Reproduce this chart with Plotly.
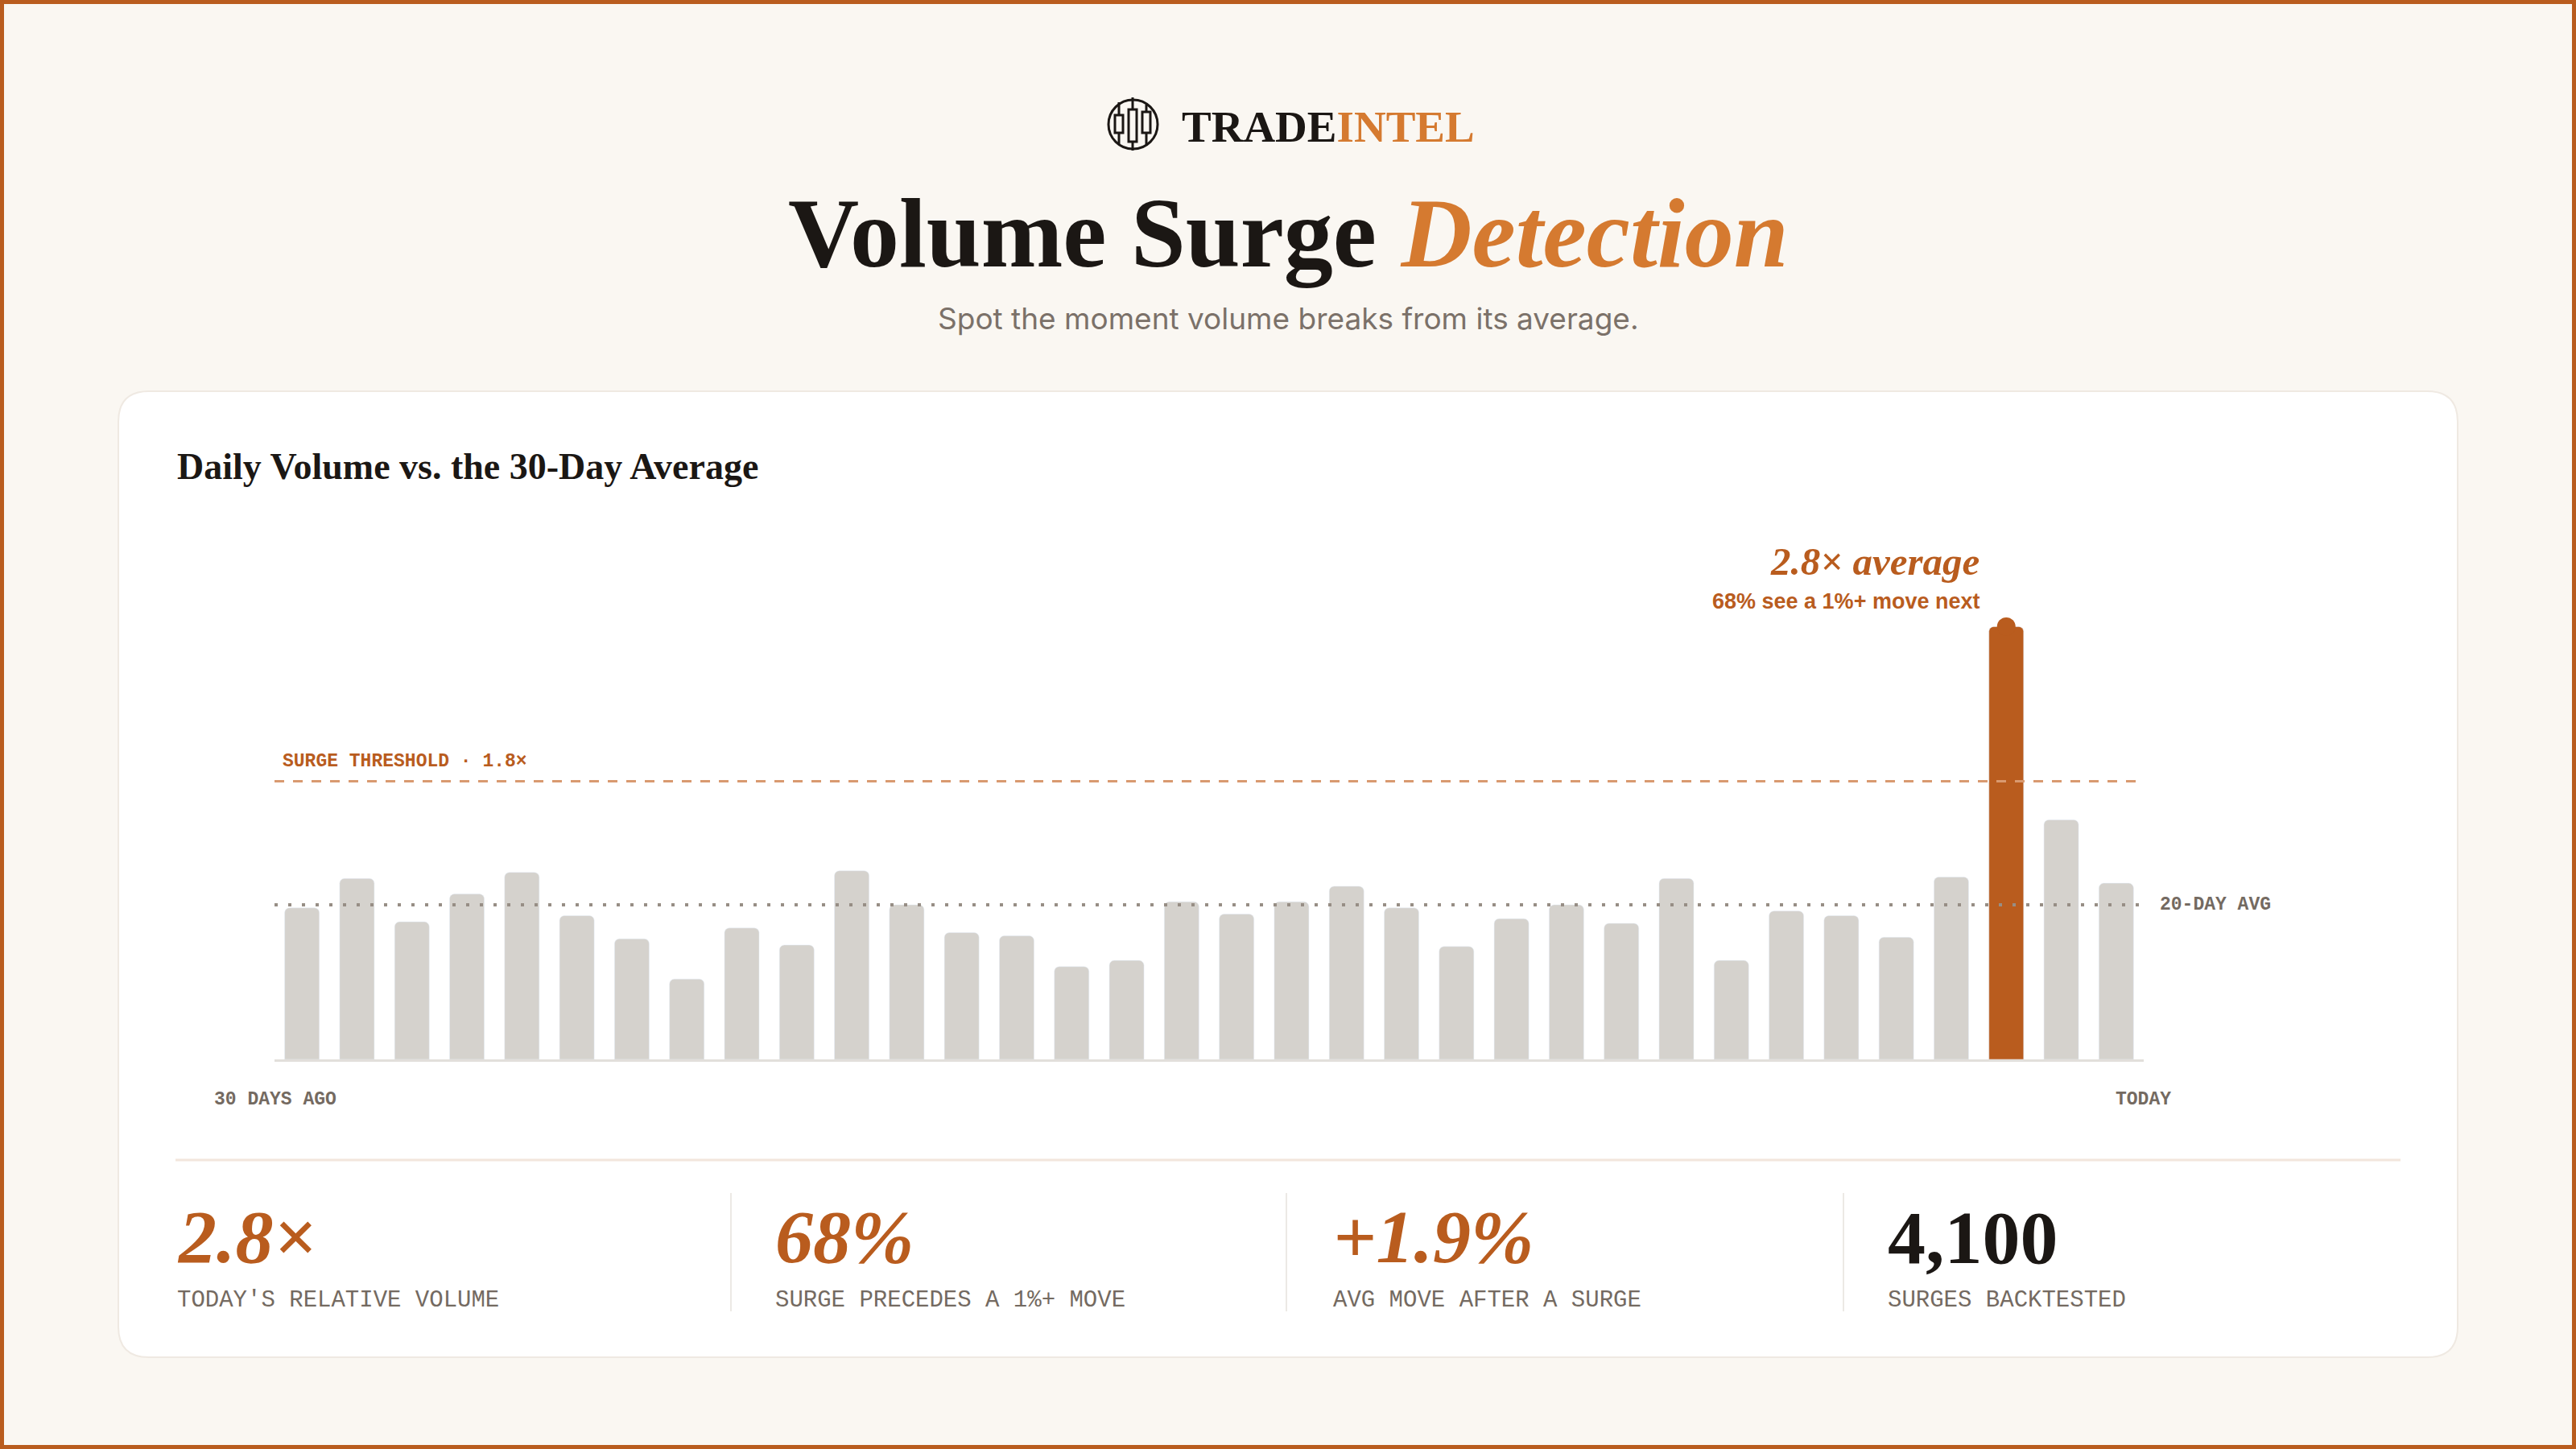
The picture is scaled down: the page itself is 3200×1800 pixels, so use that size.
import plotly.graph_objects as go

W, H = 3200, 1800

# ---------------- data ----------------
day_index = list(range(34))
volume_rel = [0.98, 1.17, 0.89, 1.07, 1.21, 0.93, 0.78, 0.52, 0.85, 0.74,
              1.22, 1.00, 0.82, 0.80, 0.60, 0.64, 1.02, 0.94, 1.02, 1.12,
              0.98, 0.73, 0.91, 1.00, 0.88, 1.17, 0.64, 0.96, 0.93, 0.79,
              1.18, 2.80, 1.55, 1.14]
surge_idx = 31
avg_level = 1.0
threshold_level = 1.8
axis_labels = ["30 DAYS AGO", "TODAY"]
stat_values = ["2.8×", "68%", "+1.9%", "4,100"]
stat_labels = ["TODAY'S RELATIVE VOLUME", "SURGE PRECEDES A 1%+ MOVE",
               "AVG MOVE AFTER A SURGE", "SURGES BACKTESTED"]

# ---------------- style ----------------
BG = "#faf7f2"
ORANGE = "#b95c1e"
ORANGE_L = "#d57a30"
DASH = "#d99a70"
GRAY_BAR = "#d5d2cd"
GRAY_TXT = "#746a61"
DOT = "#978e85"
INK = "#1b1714"

SERIF = "Liberation Serif, Times New Roman, serif"
SANS = "Liberation Sans, Arial, sans-serif"
MONO = "Liberation Mono, Courier New, monospace"


def X(px):
    return px / W


def Y(py):
    return 1 - py / H


fig = go.Figure()

gray_y = [v if i != surge_idx else None for i, v in enumerate(volume_rel)]
fig.add_trace(go.Bar(x=day_index, y=gray_y, marker=dict(color=GRAY_BAR, cornerradius=6),
                     hoverinfo="skip", showlegend=False))
fig.add_trace(go.Scatter(x=[day_index[0] - 0.5, day_index[-1] + 0.5], y=[threshold_level] * 2,
                         mode="lines", line=dict(color=DASH, width=3, dash="12px,11px"),
                         hoverinfo="skip", showlegend=False))
fig.add_trace(go.Scatter(x=[day_index[0] - 0.5, day_index[-1] + 0.5], y=[avg_level] * 2,
                         mode="lines", line=dict(color=DOT, width=4, dash="4px,13px"),
                         hoverinfo="skip", showlegend=False))
fig.add_trace(go.Bar(x=[day_index[surge_idx]], y=[volume_rel[surge_idx]],
                     marker=dict(color=ORANGE, cornerradius=6), hoverinfo="skip", showlegend=False))
fig.add_trace(go.Scatter(x=[day_index[surge_idx]], y=[volume_rel[surge_idx]], mode="markers",
                         marker=dict(color=ORANGE, size=23), hoverinfo="skip", showlegend=False))

# ---------------- shapes ----------------
shapes = []


def rrect(x0, y0, x1, y1, r):
    return (f"M {X(x0+r)},{Y(y0)} L {X(x1-r)},{Y(y0)} Q {X(x1)},{Y(y0)} {X(x1)},{Y(y0+r)} "
            f"L {X(x1)},{Y(y1-r)} Q {X(x1)},{Y(y1)} {X(x1-r)},{Y(y1)} "
            f"L {X(x0+r)},{Y(y1)} Q {X(x0)},{Y(y1)} {X(x0)},{Y(y1-r)} "
            f"L {X(x0)},{Y(y0+r)} Q {X(x0)},{Y(y0)} {X(x0+r)},{Y(y0)} Z")


# page border
shapes.append(dict(type="rect", xref="paper", yref="paper", x0=X(2.5), x1=X(W - 2.5),
                   y0=Y(2.5), y1=Y(H - 2.5), line=dict(color=ORANGE, width=5), layer="below"))
# card
shapes.append(dict(type="path", xref="paper", yref="paper", path=rrect(147, 486, 3053, 1686, 38),
                   fillcolor="#ffffff", line=dict(color="#efe9e2", width=2), layer="below"))
# separator
shapes.append(dict(type="line", xref="paper", yref="paper", x0=X(218), x1=X(2982), y0=Y(1441), y1=Y(1441),
                   line=dict(color="#f2e6dc", width=3)))
# stat dividers
for dx in [908, 1598, 2290]:
    shapes.append(dict(type="line", xref="paper", yref="paper", x0=X(dx), x1=X(dx), y0=Y(1482), y1=Y(1629),
                       line=dict(color="#ece9e5", width=2)))

# logo icon
shapes.append(dict(type="circle", xref="paper", yref="paper", x0=X(1377), x1=X(1438), y0=Y(124), y1=Y(185),
                   line=dict(color=INK, width=3)))
for wx, wy0, wy1 in [(1390, 127, 180), (1407, 121, 187), (1424, 130, 181)]:
    shapes.append(dict(type="line", xref="paper", yref="paper", x0=X(wx), x1=X(wx), y0=Y(wy0), y1=Y(wy1),
                       line=dict(color=INK, width=3)))
for bx0, bx1, by0, by1 in [(1385, 1395, 143, 165), (1402, 1412, 136, 176), (1419, 1429, 139, 165)]:
    shapes.append(dict(type="rect", xref="paper", yref="paper", x0=X(bx0), x1=X(bx1), y0=Y(by0), y1=Y(by1),
                       fillcolor=BG, line=dict(color=INK, width=3)))

# ---------------- annotations ----------------
ann = []


def text(x, y, s, size, color, family, xanchor="left", yanchor="middle"):
    ann.append(dict(xref="paper", yref="paper", x=X(x), y=Y(y), text=s, showarrow=False,
                    xanchor=xanchor, yanchor=yanchor,
                    font=dict(size=size, color=color, family=family)))


text(1466, 158, f"<b>TRADE<span style='color:{ORANGE_L}'>INTEL</span></b>", 55, INK, SERIF)
text(1600, 290, f"<b>Volume Surge <span style='color:{ORANGE_L}'><i>Detection</i></span></b>", 122, INK,
     SERIF, xanchor="center")
text(1600, 396, "Spot the moment volume breaks from its average.", 37, "#7b7169", "Inter, Noto Sans, sans-serif",
     xanchor="center")
text(218, 580, "<b>Daily Volume vs. the 30-Day Average</b>", 46, INK, SERIF)

text(2461, 697, f"<b><i>{volume_rel[surge_idx]:.1f}× average</i></b>", 49, ORANGE, SERIF, xanchor="right")
text(2461, 747, "<b>68% see a 1%+ move next</b>", 27, ORANGE, SANS, xanchor="right")
text(349, 946, f"<b>SURGE THRESHOLD · {threshold_level:.1f}×</b>", 23, ORANGE, MONO)
text(2681, 1124, "<b>20-DAY AVG</b>", 23, GRAY_TXT, MONO)
text(342, 1366, f"<b>{axis_labels[0]}</b>", 23, GRAY_TXT, MONO, xanchor="center")
text(2662, 1366, f"<b>{axis_labels[1]}</b>", 23, GRAY_TXT, MONO, xanchor="center")

stat_x = [218, 961, 1654, 2343]
for i, (v, lab) in enumerate(zip(stat_values, stat_labels)):
    if i < 3:
        text(stat_x[i], 1536, f"<b><i>{v}</i></b>", 94, ORANGE, SERIF)
    else:
        text(stat_x[i], 1537, f"<b>{v}</b>", 94, INK, SERIF)
    text(stat_x[i], 1615, lab, 29, GRAY_TXT, MONO)

fig.update_layout(
    width=W, height=H, margin=dict(l=0, r=0, t=0, b=0),
    paper_bgcolor=BG, plot_bgcolor="rgba(0,0,0,0)",
    barmode="overlay", bargap=0.37,
    shapes=shapes, annotations=ann, showlegend=False,
    xaxis=dict(domain=[X(341), X(2663)], range=[-0.5, 33.5], showgrid=False, zeroline=False,
               showticklabels=False, ticks="", showline=True, linecolor="#e2dfdb", linewidth=3, fixedrange=True),
    yaxis=dict(domain=[Y(1316), Y(1316 - 3 * 192)], range=[0, 3], showgrid=False, zeroline=False,
               showticklabels=False, ticks="", showline=False, fixedrange=True),
)

fig.write_html("out.html")
